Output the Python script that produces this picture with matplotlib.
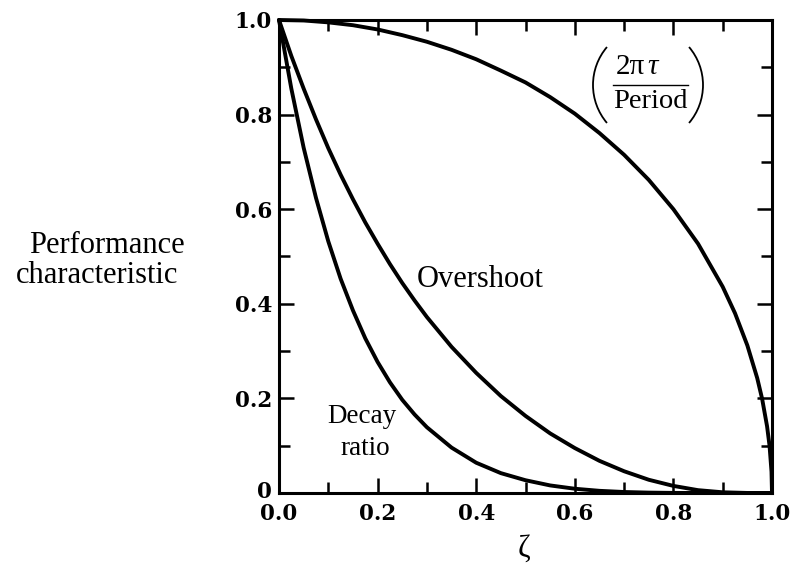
import matplotlib
matplotlib.use("Agg")
import matplotlib.pyplot as plt
from matplotlib.patches import Arc
from matplotlib.ticker import MultipleLocator
from matplotlib.transforms import ScaledTranslation

# damping ratio values (x) and curve values
zeta_os = [0.0, 0.025, 0.05, 0.075, 0.1, 0.125, 0.15, 0.175, 0.2, 0.225, 0.25, 0.275,
           0.3, 0.35, 0.4, 0.45, 0.5, 0.55, 0.6, 0.65, 0.7, 0.75, 0.8, 0.85, 0.9, 0.95, 1.0]
overshoot = [1.0, 0.924, 0.855, 0.790, 0.729, 0.673, 0.621, 0.572, 0.527, 0.484, 0.444, 0.407,
             0.372, 0.309, 0.254, 0.205, 0.163, 0.126, 0.095, 0.068, 0.046, 0.028, 0.015, 0.006,
             0.0015, 0.0001, 0.0]
decay_ratio = [1.0, 0.855, 0.730, 0.624, 0.532, 0.453, 0.386, 0.327, 0.277, 0.234, 0.197, 0.166,
               0.139, 0.096, 0.064, 0.042, 0.027, 0.016, 0.009, 0.0046, 0.0021, 0.0008, 0.0002,
               0.00004, 0.0, 0.0, 0.0]

zeta_p = [0.0, 0.05, 0.1, 0.15, 0.2, 0.25, 0.3, 0.35, 0.4, 0.45, 0.5, 0.55, 0.6, 0.65, 0.7,
          0.75, 0.8, 0.85, 0.9, 0.925, 0.95, 0.97, 0.98, 0.99, 0.995, 0.999, 1.0]
period_ratio = [1.0, 0.999, 0.995, 0.989, 0.980, 0.968, 0.954, 0.937, 0.917, 0.893, 0.868, 0.837,
                0.802, 0.761, 0.715, 0.662, 0.600, 0.527, 0.436, 0.380, 0.312, 0.243, 0.199,
                0.141, 0.100, 0.045, 0.0]

xticks = [0.0, 0.2, 0.4, 0.6, 0.8, 1.0]
xticklabels = ["0.0", "0.2", "0.4", "0.6", "0.8", "1.0"]
yticks = [0.0, 0.2, 0.4, 0.6, 0.8, 1.0]
yticklabels = ["0", "0.2", "0.4", "0.6", "0.8", "1.0"]

W, H = 791, 566
fig = plt.figure(figsize=(W / 100, H / 100), dpi=100)
ax = fig.add_axes([279 / W, 1 - 493 / H, (772 - 279) / W, (493 - 20) / H])

lw = 2.8
ax.plot(zeta_os, overshoot, color="black", lw=lw, clip_on=False, solid_capstyle="round")
ax.plot(zeta_os, decay_ratio, color="black", lw=lw, clip_on=False, solid_capstyle="round")
ax.plot(zeta_p, period_ratio, color="black", lw=lw, clip_on=False, solid_capstyle="round")

ax.set_xlim(0, 1)
ax.set_ylim(0, 1)
ax.set_xticks(xticks)
ax.set_xticklabels(xticklabels)
ax.set_yticks(yticks)
ax.set_yticklabels(yticklabels)
ax.xaxis.set_minor_locator(MultipleLocator(0.1))
ax.yaxis.set_minor_locator(MultipleLocator(0.1))
ax.tick_params(which="both", direction="in", top=True, right=True, width=1.8, color="black")
ax.tick_params(which="major", length=11)
ax.tick_params(which="minor", length=8)
ax.tick_params(axis="x", which="major", pad=7)
ax.tick_params(axis="y", which="major", pad=5)
for lab in ax.get_xticklabels() + ax.get_yticklabels():
    lab.set_fontfamily("DejaVu Serif")
    lab.set_fontweight("bold")
    lab.set_fontsize(15.5)
# lift the "0" y label a little, as in the reference
ylabs = ax.get_yticklabels()
ylabs[0].set_transform(ylabs[0].get_transform() + ScaledTranslation(0, 4 / 100, fig.dpi_scale_trans))
for sp in ax.spines.values():
    sp.set_linewidth(2.2)

# overlay in pixel coordinates for annotations
ov = fig.add_axes([0, 0, 1, 1], facecolor="none")
ov.set_xlim(0, W)
ov.set_ylim(H, 0)
ov.axis("off")

serif = "Liberation Serif"
ov.text(107, 253, "Performance", fontsize=22, family=serif, ha="center", va="baseline")
ov.text(97, 283, "characteristic", fontsize=22, family=serif, ha="center", va="baseline")
ov.text(417, 287, "Overshoot", fontsize=22, family=serif, ha="left", va="baseline")
ov.text(327, 423, "Decay", fontsize=19.5, family=serif, ha="left", va="baseline")
ov.text(340, 455, "ratio", fontsize=19.5, family=serif, ha="left", va="baseline")
ov.text(524, 549, "ζ", fontsize=22, family=serif, ha="center", va="center")

# fraction label
ov.text(645, 74, "2π", fontsize=21, family=serif, ha="right", va="baseline")
ov.text(647, 74, "τ", fontsize=21, family=serif, style="italic", ha="left", va="baseline")
ov.plot([613, 688], [85, 85], color="black", lw=1.0)
ov.text(650.5, 108, "Period", fontsize=20.5, family=serif, ha="center", va="baseline")
R = 58.6
ang = 40.4
ov.add_patch(Arc((593 + R, 85), 2 * R, 2 * R, theta1=180 - ang, theta2=180 + ang,
                 color="black", lw=1.3))
ov.add_patch(Arc((703 - R, 85), 2 * R, 2 * R, theta1=-ang, theta2=ang,
                 color="black", lw=1.3))

fig.savefig("out.png", dpi=100)
